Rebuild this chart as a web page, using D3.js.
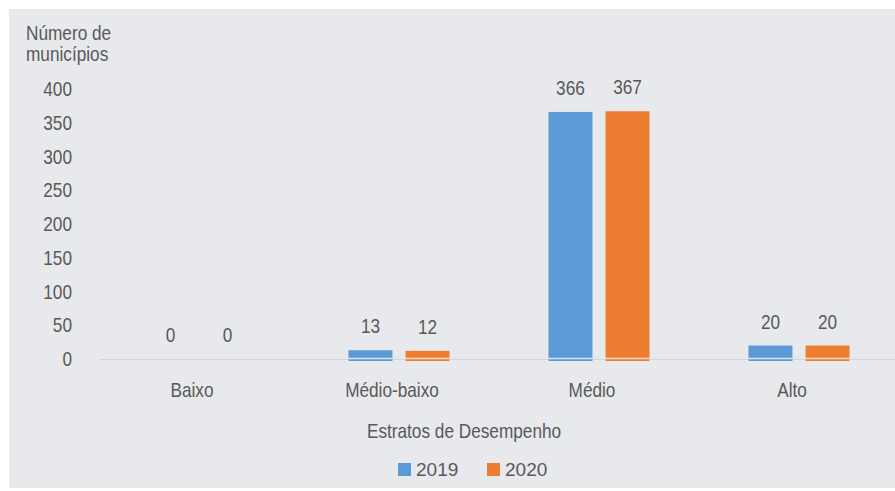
<!DOCTYPE html>
<html>
<head>
<meta charset="utf-8">
<script src="https://cdn.jsdelivr.net/npm/d3@7"></script>
<style>
  html, body { margin: 0; padding: 0; background: #ffffff; }
  svg { display: block; }
  text { font-family: "Liberation Sans", Arial, sans-serif; }
</style>
</head>
<body>
<svg id="chart" width="895" height="491"></svg>
<script>
// Municípios por estrato de desempenho, 2019 x 2020
const categories = ["Baixo", "Médio-baixo", "Médio", "Alto"];
const years = ["2019", "2020"];
const values2019 = [0, 13, 366, 20];
const values2020 = [0, 12, 367, 20];
const yTicks = [0, 50, 100, 150, 200, 250, 300, 350, 400];
const yTitle = ["Número de", "municípios"];
const xTitle = "Estratos de Desempenho";

const colors = { "2019": "#5b9bd5", "2020": "#ed7d31" };
const textColor = "#595959";
const fontSize = 21;
const squeeze = 0.82; // condensed look: horizontally compressed sans

const svg = d3.select("#chart");

// draws a condensed label anchored at (x, y)
function narrowText(parent, x, y, str, anchor) {
  return parent.append("g")
    .attr("transform", `translate(${x},${y}) scale(${squeeze},1)`)
    .append("text")
    .attr("text-anchor", anchor || "start")
    .attr("font-size", fontSize)
    .attr("fill", textColor)
    .text(str);
}

// light panel behind the whole chart
svg.append("rect")
  .attr("x", 9).attr("y", 9)
  .attr("width", 886).attr("height", 479)
  .attr("fill", "#e7e9ec");

const y = d3.scaleLinear().domain([0, 400]).range([359, 89]);
const x0 = d3.scaleBand().domain(categories).range([99, 899]).paddingInner(0);
const x1 = d3.scaleBand().domain(years).range([0, 101]).paddingInner(0.23);
const groupOffset = (x0.bandwidth() - 101) / 2;

const rows = categories.map((c, i) => ({
  category: c,
  values: [
    { year: "2019", value: values2019[i] },
    { year: "2020", value: values2020[i] }
  ]
}));

// y axis: labels only
const yAxis = d3.axisLeft(y).tickValues(yTicks).tickSize(0).tickPadding(0);
const gy = svg.append("g").attr("transform", "translate(72,0)").call(yAxis);
gy.select(".domain").remove();
gy.selectAll("text")
  .attr("font-family", null)
  .attr("font-size", fontSize)
  .attr("fill", textColor)
  .attr("transform", `scale(${squeeze},1)`);

// y axis title, two lines
yTitle.forEach((line, i) => narrowText(svg, 26, 40 + i * 21, line));

// baseline
svg.append("line")
  .attr("x1", 100).attr("x2", 895)
  .attr("y1", y(0) + 0.5).attr("y2", y(0) + 0.5)
  .attr("stroke", "#d3d6da").attr("stroke-width", 1);

// bars
const groups = svg.append("g").selectAll("g")
  .data(rows)
  .join("g")
  .attr("transform", d => `translate(${x0(d.category) + groupOffset},0)`);

groups.selectAll("rect")
  .data(d => d.values)
  .join("rect")
  .attr("x", d => x1(d.year))
  .attr("width", x1.bandwidth())
  .attr("y", d => y(d.value))
  .attr("height", d => d.value > 0 ? y(0) - y(d.value) + 2 : 0)
  .attr("fill", d => colors[d.year]);

// thin light stripe where bars meet the baseline
groups.selectAll("line.stripe")
  .data(d => d.values.filter(v => v.value > 0))
  .join("line")
  .attr("class", "stripe")
  .attr("x1", d => x1(d.year)).attr("x2", d => x1(d.year) + x1.bandwidth())
  .attr("y1", y(0) - 0.5).attr("y2", y(0) - 0.5)
  .attr("stroke", "rgba(255,255,255,0.75)").attr("stroke-width", 1.5);

// value labels
groups.each(function (d) {
  const g = d3.select(this);
  d.values.forEach(v => {
    narrowText(g, x1(v.year) + x1.bandwidth() / 2, y(v.value) - 17, v.value, "middle");
  });
});

// category labels
const xAxis = d3.axisBottom(x0).tickSize(0).tickPadding(0);
const gx = svg.append("g").attr("transform", "translate(-7,382)").call(xAxis);
gx.select(".domain").remove();
gx.selectAll("text")
  .attr("font-family", null)
  .attr("font-size", fontSize)
  .attr("fill", textColor)
  .attr("dy", "0.71em")
  .attr("transform", `scale(${squeeze},1)`);

// x axis title
narrowText(svg, 464, 438, xTitle, "middle");

// legend
const legendX = [398, 487];
const legend = svg.append("g").selectAll("g")
  .data(years)
  .join("g")
  .attr("transform", (d, i) => `translate(${legendX[i]},463)`);
legend.append("rect")
  .attr("width", 13).attr("height", 13)
  .attr("fill", d => colors[d]);
legend.append("text")
  .attr("x", 18).attr("y", 13)
  .attr("font-size", 19)
  .attr("fill", textColor)
  .text(d => d);
</script>
</body>
</html>
